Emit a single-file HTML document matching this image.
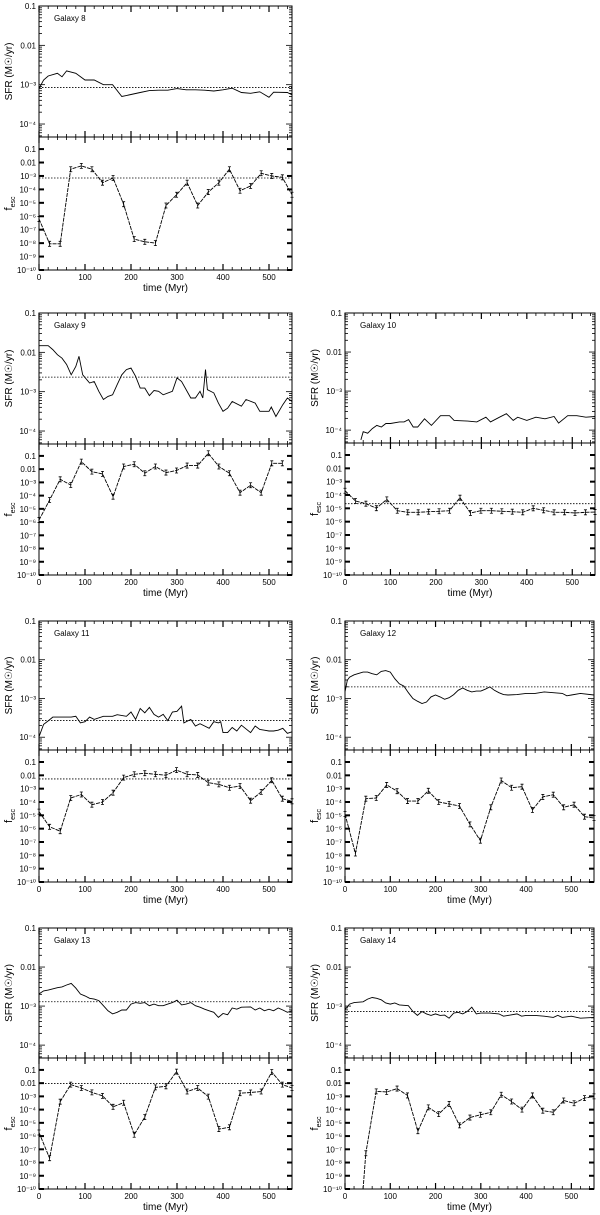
<!DOCTYPE html>
<html><head><meta charset="utf-8"><style>
html,body{margin:0;padding:0;background:#fff;}
svg{display:block;font-family:"Liberation Sans",sans-serif;}
</style></head><body>
<svg id="fig" width="600" height="1215" viewBox="0 0 600 1215" xmlns="http://www.w3.org/2000/svg"></svg>
<script>
// ---- data (SFR and f_esc given as log10 values) ----
const fescT = [0,23,46,69,92,115,138,161,184,207,230,253,276,299,322,345,368,391,414,437,460,483,506,529,550];

const g8SfrT = [0,10,20,40,50,60,80,100,120,140,160,180,200,220,240,260,280,300,320,340,360,380,400,420,440,460,480,500,510,540,550];
const g8SfrV = [-3.1,-2.88,-2.78,-2.71,-2.8,-2.65,-2.71,-2.88,-2.88,-3.0,-3.0,-3.3,-3.25,-3.2,-3.15,-3.14,-3.14,-3.1,-3.13,-3.13,-3.14,-3.16,-3.13,-3.09,-3.2,-3.22,-3.18,-3.32,-3.19,-3.2,-3.26];
const g8Fesc = [-6.2,-8.05,-8.05,-2.5,-2.25,-2.5,-3.5,-3.15,-5.1,-7.7,-7.9,-8.0,-5.2,-4.4,-3.5,-5.2,-4.2,-3.5,-2.5,-4.1,-3.75,-2.8,-3.0,-3.1,-4.4];
const g8SfrRef = -3.07, g8FescRef = -3.15;

const g9SfrT = [0,20,30,40,50,60,70,80,87,95,110,120,130,140,150,160,170,180,190,200,210,220,230,240,250,260,270,290,300,310,330,340,350,356,362,366,380,390,400,410,420,440,450,470,480,500,505,515,530,540,550];
const g9SfrV = [-1.83,-1.83,-1.93,-2.06,-2.15,-2.31,-2.57,-2.36,-2.1,-2.57,-2.78,-2.74,-2.99,-3.2,-3.12,-3.08,-2.82,-2.57,-2.44,-2.4,-2.61,-2.91,-2.91,-3.1,-2.97,-2.99,-3.08,-2.99,-2.65,-2.74,-3.16,-3.16,-2.99,-3.16,-2.44,-2.95,-3.03,-3.29,-3.5,-3.42,-3.25,-3.37,-3.2,-3.29,-3.5,-3.5,-3.39,-3.63,-3.33,-3.16,-3.25];
const g9Fesc = [-5.85,-4.33,-2.77,-3.2,-1.43,-2.19,-2.36,-4.08,-1.8,-1.63,-2.31,-1.8,-2.26,-2.1,-1.73,-1.73,-0.8,-1.8,-2.31,-3.78,-3.22,-3.78,-1.56,-1.56];
const g9SfrRef = -2.63, g9FescRef = null;

const g10SfrT = [35,40,50,60,70,80,90,100,120,130,140,150,160,175,190,210,230,240,270,290,310,320,340,355,370,380,400,420,440,460,470,490,510,530,550];
const g10SfrV = [-4.25,-4.04,-4.08,-3.96,-3.88,-3.92,-3.83,-3.83,-3.79,-3.79,-3.73,-3.92,-3.92,-3.71,-3.88,-3.63,-3.63,-3.75,-3.77,-3.79,-3.67,-3.79,-3.67,-3.58,-3.75,-3.67,-3.75,-3.67,-3.71,-3.65,-3.82,-3.63,-3.63,-3.67,-3.65];
const g10Fesc = [-3.68,-4.45,-4.65,-4.99,-4.33,-5.18,-5.3,-5.3,-5.25,-5.22,-5.18,-4.2,-5.35,-5.18,-5.18,-5.22,-5.25,-5.3,-5.0,-5.15,-5.3,-5.3,-5.35,-5.3,-5.28];
const g10SfrRef = null, g10FescRef = -4.65;

const g11SfrT = [0,10,20,30,50,70,80,90,100,110,120,140,160,170,190,200,210,220,230,240,250,260,270,280,290,300,310,315,330,340,350,360,370,380,390,395,400,410,420,430,440,460,470,480,490,500,510,520,530,540,550];
const g11SfrV = [-3.99,-3.67,-3.58,-3.48,-3.48,-3.48,-3.46,-3.63,-3.6,-3.48,-3.54,-3.46,-3.46,-3.42,-3.46,-3.35,-3.54,-3.26,-3.37,-3.23,-3.41,-3.48,-3.41,-3.57,-3.35,-3.33,-3.2,-3.63,-3.54,-3.71,-3.65,-3.71,-3.77,-3.6,-3.63,-3.6,-3.88,-3.88,-3.75,-3.84,-3.69,-3.88,-3.71,-3.8,-3.82,-3.84,-3.84,-3.82,-3.77,-3.9,-3.86];
const g11Fesc = [-4.72,-5.86,-6.19,-3.7,-3.44,-4.2,-4.0,-3.3,-2.17,-1.92,-1.84,-1.92,-1.99,-1.61,-1.92,-1.97,-2.55,-2.68,-2.93,-2.8,-3.9,-3.24,-2.37,-3.75,-3.95];
const g11SfrRef = -3.57, g11FescRef = -2.27;

const g12SfrT = [0,5,10,20,40,50,60,70,80,90,100,110,120,130,140,150,160,170,180,190,200,210,220,230,240,250,260,270,280,290,300,310,320,330,340,350,360,380,400,420,440,460,480,490,500,520,550];
const g12SfrV = [-2.83,-2.53,-2.45,-2.39,-2.32,-2.32,-2.36,-2.39,-2.3,-2.28,-2.32,-2.49,-2.62,-2.68,-2.85,-3.0,-3.07,-3.13,-3.09,-2.96,-2.91,-2.96,-3.02,-2.98,-2.9,-2.79,-2.73,-2.79,-2.83,-2.81,-2.81,-2.76,-2.7,-2.79,-2.85,-2.9,-2.91,-2.9,-2.87,-2.87,-2.83,-2.85,-2.87,-2.93,-2.91,-2.87,-2.91];
const g12Fesc = [-4.9,-7.86,-3.75,-3.7,-2.72,-3.19,-3.93,-3.93,-3.16,-4.0,-4.14,-4.3,-5.68,-6.9,-4.4,-2.39,-2.93,-2.85,-4.6,-3.62,-3.45,-4.4,-4.2,-5.1,-5.2];
const g12SfrRef = -2.7, g12FescRef = null;

const g13SfrT = [0,5,10,20,40,50,60,70,80,90,100,110,120,130,140,150,160,170,180,190,200,210,220,230,240,250,260,270,280,290,300,310,320,330,340,350,360,370,380,390,400,410,420,430,440,460,470,480,490,500,510,520,530,540,550];
const g13SfrV = [-2.69,-2.65,-2.61,-2.59,-2.53,-2.51,-2.46,-2.42,-2.54,-2.69,-2.74,-2.8,-2.82,-2.86,-2.99,-3.12,-3.2,-3.16,-3.1,-3.1,-2.95,-2.91,-2.93,-2.91,-2.99,-2.95,-2.99,-2.99,-2.95,-2.91,-2.85,-2.97,-2.95,-2.91,-2.99,-3.03,-3.08,-3.12,-3.16,-3.29,-3.19,-3.22,-3.05,-3.08,-3.03,-3.02,-3.1,-3.05,-3.12,-3.08,-3.12,-3.05,-3.1,-3.16,-3.12];
const g13Fesc = [-5.73,-7.67,-3.4,-2.11,-2.37,-2.7,-2.96,-3.79,-3.48,-5.9,-4.57,-2.32,-2.24,-1.13,-2.63,-2.37,-3.02,-5.47,-5.34,-2.76,-2.71,-2.63,-1.16,-2.11,-2.37];
const g13SfrRef = -2.89, g13FescRef = -2.03;

const g14SfrT = [0,10,20,40,50,60,70,80,90,100,110,120,140,150,160,170,180,190,200,210,220,230,240,250,260,270,280,290,300,320,340,350,360,380,390,400,420,440,460,470,480,500,520,550];
const g14SfrV = [-3.09,-2.95,-2.91,-2.89,-2.82,-2.78,-2.8,-2.84,-2.92,-2.95,-2.92,-2.97,-2.99,-3.14,-3.24,-3.14,-3.2,-3.24,-3.2,-3.24,-3.23,-3.31,-3.18,-3.16,-3.2,-3.14,-3.03,-3.2,-3.18,-3.18,-3.2,-3.26,-3.24,-3.2,-3.26,-3.24,-3.24,-3.26,-3.29,-3.24,-3.29,-3.26,-3.31,-3.29];
const g14FescT = [40,46,69,92,115,138,161,184,207,230,253,276,299,322,345,368,391,414,437,460,483,506,529,550];
const g14Fesc = [-10,-7.3,-2.62,-2.67,-2.41,-2.93,-5.63,-3.83,-4.34,-3.57,-5.19,-4.6,-4.39,-4.2,-2.88,-3.39,-4.0,-2.93,-4.08,-4.2,-3.31,-3.52,-3.13,-3.0];
const g14SfrRef = -3.14, g14FescRef = null;

const xTickLabels = ["0","100","200","300","400","500"];
const sfrTickLabels = ["0.1","0.01","10⁻³","10⁻⁴"];
const fescTickLabels = ["0.1","0.01","10⁻³","10⁻⁴","10⁻⁵","10⁻⁶","10⁻⁷","10⁻⁸","10⁻⁹","10⁻¹⁰"];

// ---- drawing ----
const NS = "http://www.w3.org/2000/svg";
const svg = document.getElementById("fig");
function mk(tag, attrs, parent){
  const e = document.createElementNS(NS, tag);
  for (const k in attrs) e.setAttribute(k, attrs[k]);
  (parent||svg).appendChild(e);
  return e;
}
function panel(name, x0, x1, yTop, yMid, yBot, sfrT, sfrV, fT, fesc, sfrRef, fescRef){
  const g = mk("g", {});
  
  
  const xs = t => x0 + (t/550)*(x1-x0);
  const ysTop = v => yTop + (-1 - v)/3.33*(yMid-yTop);
  const ysBot = v => yMid + (-0.1 - v)/9.9*(yBot-yMid);
  const fr = mk("rect", {x:x0, y:yTop, width:x1-x0, height:yBot-yTop, fill:"none", stroke:"#000", "stroke-width":1}, g);
  
  
  mk("line", {x1:x0, x2:x1, y1:yMid, y2:yMid, stroke:"#000", "stroke-width":1}, g);
  for (let t=0; t<=550; t+=20){
    const X = xs(t), big = t%100===0;
    const L = big?6:3;
    mk("line",{x1:X,x2:X,y1:yTop,y2:yTop+L,stroke:"#000","stroke-width":big?1.2:0.8},g);
    mk("line",{x1:X,x2:X,y1:yMid-L,y2:yMid+L,stroke:"#000","stroke-width":big?1.2:0.8},g);
    mk("line",{x1:X,x2:X,y1:yBot,y2:yBot-L,stroke:"#000","stroke-width":big?1.2:0.8},g);
  }
  xTickLabels.forEach((s,i)=>{
    const tx = mk("text",{x:xs(i*100), y:yBot+10, "font-size":8, "text-anchor":"middle"},g);
    tx.textContent = s;
    
    
  });
  const xt = mk("text",{x:(x0+x1)/2, y:yBot+21, "font-size":10, "text-anchor":"middle"},g);
  xt.textContent = "time (Myr)";
  
  
  for (let d=0; d<4; d++){
    const v = -1 - d;
    for (let m=1; m<10; m++){
      const Y = ysTop(v - 1 + Math.log10(m));
      if (Y<yTop || Y>yMid) continue;
      const L = m===1?6:3;
      mk("line",{x1:x0,x2:x0+L,y1:Y,y2:Y,stroke:"#000","stroke-width":0.8},g);
      mk("line",{x1:x1,x2:x1-L,y1:Y,y2:Y,stroke:"#000","stroke-width":0.8},g);
    }
    const Y = ysTop(v);
    const tl = mk("text",{x:x0-3, y:Y+3, "font-size":8, "text-anchor":"end"},g);
    tl.textContent = sfrTickLabels[d];
    
    
  }
  fescTickLabels.forEach((s,i)=>{
    const v = -1 - i, Y = ysBot(v);
    mk("line",{x1:x0,x2:x0+5,y1:Y,y2:Y,stroke:"#000","stroke-width":2},g);
    mk("line",{x1:x1,x2:x1-5,y1:Y,y2:Y,stroke:"#000","stroke-width":2},g);
    const tl = mk("text",{x:x0-3, y:Y+3, "font-size":8, "text-anchor":"end"},g);
    tl.textContent = s;
    
    
  });
  const yc1 = (yTop+yMid)/2, yc2 = (yMid+yBot)/2;
  const t1 = mk("text",{x:x0-27, y:yc1, "font-size":10, "text-anchor":"middle", transform:`rotate(-90 ${x0-27} ${yc1})`},g);
  t1.textContent = "SFR (M☉/yr)";
  
  
  const t2 = mk("text",{x:x0-27, y:yc2, "font-size":11, "text-anchor":"middle", transform:`rotate(-90 ${x0-27} ${yc2})`},g);
  
  
  const tsa = mk("tspan",{},t2); tsa.textContent = "f";
  const tsb = mk("tspan",{"font-size":7, dy:3},t2); tsb.textContent = "esc";
  const gl = mk("text",{x:x0+15, y:yTop+15, "font-size":8},g);
  gl.textContent = name.replace("galaxy-","Galaxy ");
  
  
  if (sfrRef!==null){
    const l = mk("line",{x1:x0,x2:x1,y1:ysTop(sfrRef),y2:ysTop(sfrRef),stroke:"#000","stroke-width":0.8,"stroke-dasharray":"1.5 1.5"},g);
    
    
  }
  if (fescRef!==null){
    const l = mk("line",{x1:x0,x2:x1,y1:ysBot(fescRef),y2:ysBot(fescRef),stroke:"#000","stroke-width":0.8,"stroke-dasharray":"1.5 1.5"},g);
    
    
  }
  const sp = sfrT.map((t,i)=>`${xs(t).toFixed(1)},${Math.min(yMid,ysTop(sfrV[i])).toFixed(1)}`).join(" ");
  const sl = mk("polyline",{points:sp, fill:"none", stroke:"#000","stroke-width":0.9},g);
  
  
  const fp = fesc.map((v,i)=>`${xs(fT[i]).toFixed(1)},${ysBot(v).toFixed(1)}`).join(" ");
  const fl = mk("polyline",{points:fp, fill:"none", stroke:"#000","stroke-width":0.9,"stroke-dasharray":"4 1"},g);
  
  
  fesc.forEach((v,i)=>{
    if (v<=-10) return;
    const X = xs(fT[i]), Y = ysBot(v);
    const eb = mk("path",{d:`M${X-1.5},${Y-2.5}H${X+1.5}M${X},${Y-2.5}V${Y+2.5}M${X-1.5},${Y+2.5}H${X+1.5}`, stroke:"#000","stroke-width":0.8, fill:"none"},g);
    
    
  });
}
panel("galaxy-8", 39,292, 6,137,270, g8SfrT,g8SfrV,fescT,g8Fesc,g8SfrRef,g8FescRef);
panel("galaxy-9", 39,292, 313,444,575, g9SfrT,g9SfrV,fescT,g9Fesc,g9SfrRef,g9FescRef);
panel("galaxy-10",345,595, 313,443,575, g10SfrT,g10SfrV,fescT,g10Fesc,g10SfrRef,g10FescRef);
panel("galaxy-11",39,292, 621,750,882, g11SfrT,g11SfrV,fescT,g11Fesc,g11SfrRef,g11FescRef);
panel("galaxy-12",345,594, 621,750,882, g12SfrT,g12SfrV,fescT,g12Fesc,g12SfrRef,g12FescRef);
panel("galaxy-13",39,292, 928,1058,1189, g13SfrT,g13SfrV,fescT,g13Fesc,g13SfrRef,g13FescRef);
panel("galaxy-14",345,594, 928,1058,1189, g14SfrT,g14SfrV,g14FescT,g14Fesc,g14SfrRef,g14FescRef);
</script>
</body></html>
